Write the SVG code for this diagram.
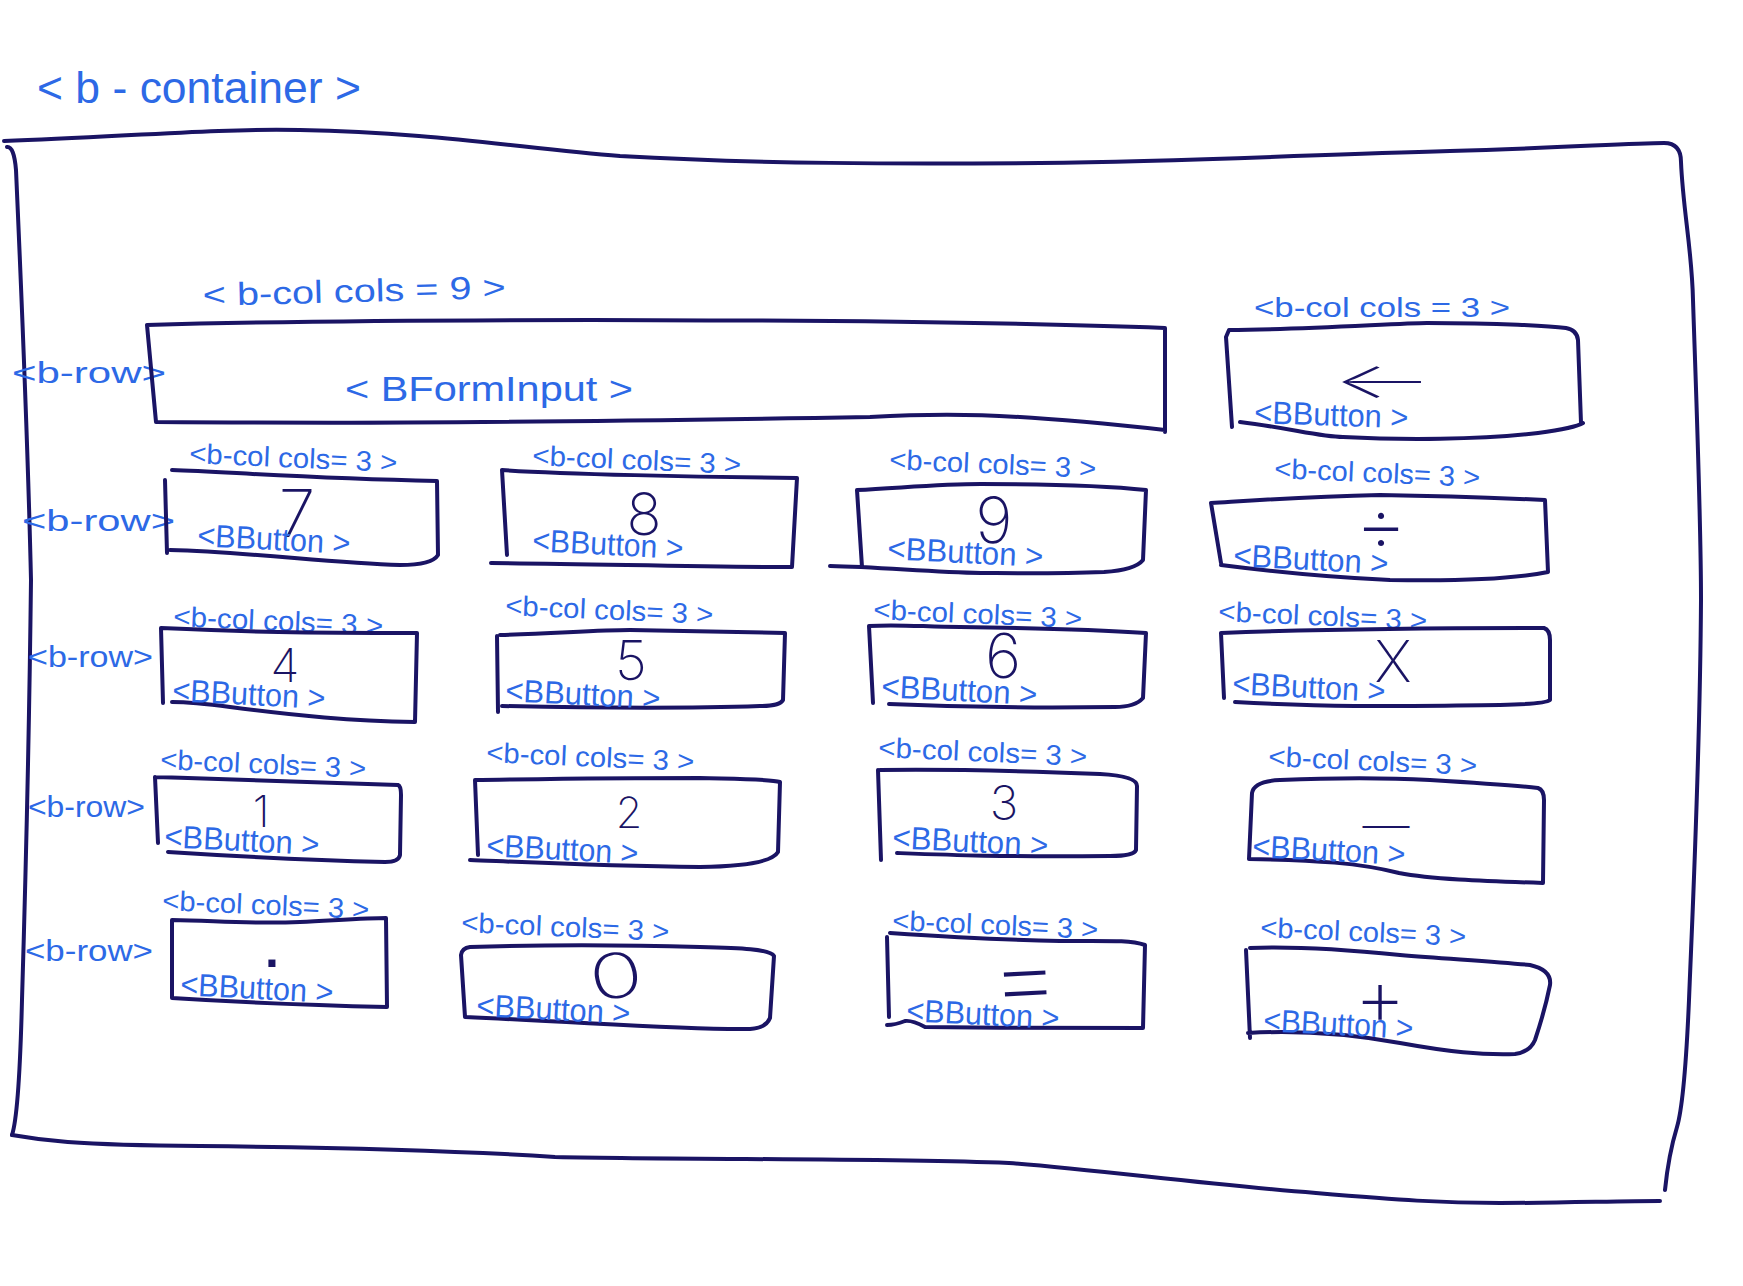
<svg xmlns="http://www.w3.org/2000/svg" width="1743" height="1286" viewBox="0 0 1743 1286">
<style>
.ln{fill:none;stroke:#1a1464;stroke-width:4;stroke-linecap:round;stroke-linejoin:round}
.lbl{font-family:'Liberation Sans',Arial,sans-serif;fill:#2d69e6}
.col{font-size:28px}
.btn{font-size:32px}
.row{font-size:30px}
.gl{font-family:Inter,'Liberation Sans',sans-serif;font-weight:200;fill:#1a1464;text-anchor:middle}
</style>
<rect width="1743" height="1286" fill="#ffffff"/>
<g id="container">
<path class="ln" d="M4 141 C120 137 220 128 300 130 C430 132 520 148 620 156 C760 164 900 164 1040 163 C1200 161 1300 155 1450 151 C1560 148 1630 143 1664 143 Q1681 143 1681 162 C1683 210 1692 250 1693 300 C1697 420 1701 520 1701 600 C1700 760 1693 900 1689 1000 C1686 1070 1682 1110 1677 1127 C1670 1150 1667 1170 1665 1190"/>
<path class="ln" d="M7 147 Q14 146 16 170 C20 260 28 450 31 580 C29 750 25 900 22 1000 C20 1080 17 1120 12 1135"/>
<path class="ln" d="M12 1135 C40 1140 70 1145 200 1146 C300 1147 450 1150 555 1157 C700 1160 870 1158 1009 1163 C1100 1170 1200 1184 1316 1193 C1400 1200 1440 1203 1500 1203 C1560 1203 1620 1201 1660 1201"/>
<text class="lbl" x="37" y="103" font-size="44" textLength="324" lengthAdjust="spacingAndGlyphs">&lt; b - container &gt;</text>
</g>
<g id="rows">
<text class="lbl row" x="12" y="383" textLength="154" lengthAdjust="spacingAndGlyphs">&lt;b-row&gt;</text>
<text class="lbl row" x="22" y="531" textLength="153" lengthAdjust="spacingAndGlyphs">&lt;b-row&gt;</text>
<text class="lbl row" x="28" y="667" textLength="125" lengthAdjust="spacingAndGlyphs">&lt;b-row&gt;</text>
<text class="lbl row" x="28" y="817" textLength="117" lengthAdjust="spacingAndGlyphs">&lt;b-row&gt;</text>
<text class="lbl row" x="25" y="961" textLength="128" lengthAdjust="spacingAndGlyphs">&lt;b-row&gt;</text>
</g>
<g id="connectors"></g>

<g id="col-input">
<text class="lbl" font-size="32" x="203" y="306" textLength="303" lengthAdjust="spacingAndGlyphs" transform="rotate(-1.5 203 306)">&lt; b-col cols = 9 &gt;</text>
<path class="ln" d="M147 325 C400 318 900 318 1165 328 L1165 432 M156 422 C300 423 444 424 870 417 C940 413 1000 412 1165 430 M147 325 L156 422"/>
<text class="lbl" font-size="35" x="345" y="401" textLength="288" lengthAdjust="spacingAndGlyphs">&lt; BFormInput &gt;</text>
</g>
<g id="col-back">
<text class="lbl col" x="1254" y="317" textLength="256" lengthAdjust="spacingAndGlyphs">&lt;b-col cols = 3 &gt;</text>
<path class="ln" d="M1226 337 L1229 330 C1300 330 1400 323 1427 323 C1500 323 1550 326 1566 328 Q1577 330 1578 340 L1581 423 M1240 422 C1290 428 1320 437 1343 437 C1400 440 1480 440 1538 433 Q1575 428 1583 423 M1226 337 L1232 427"/>
<text class="gl" x="1383" y="398" font-size="50" textLength="103" lengthAdjust="spacingAndGlyphs">←</text>
<text class="lbl btn" x="1254" y="423" textLength="154" lengthAdjust="spacingAndGlyphs" transform="rotate(2 1254 423)">&lt;BButton &gt;</text>
</g>

<g id="col-7">
<text class="lbl col" x="189" y="463" textLength="208" lengthAdjust="spacingAndGlyphs" transform="rotate(2.5 189 463)">&lt;b-col cols= 3 &gt;</text>
<path class="ln" d="M172 470 C230 472 300 478 437 481 L438 555 Q432 565 400 565 C330 563 250 552 170 550 M165 480 L167 553"/>
<text class="gl" x="297" y="537" font-size="66">7</text>
<text class="lbl btn" x="197" y="546" textLength="153" lengthAdjust="spacingAndGlyphs" transform="rotate(3 197 546)">&lt;BButton &gt;</text>
</g>
<g id="col-8">
<text class="lbl col" x="532" y="465" textLength="209" lengthAdjust="spacingAndGlyphs" transform="rotate(2.5 532 465)">&lt;b-col cols= 3 &gt;</text>
<path class="ln" d="M502 470 C560 474 700 477 797 478 L792 567 M491 563 C600 564 700 567 792 567 M502 470 L507 555"/>
<text class="gl" x="644" y="535" font-size="58">8</text>
<text class="lbl btn" x="532" y="551" textLength="151" lengthAdjust="spacingAndGlyphs" transform="rotate(3 532 551)">&lt;BButton &gt;</text>
</g>
<g id="col-9">
<text class="lbl col" x="889" y="469" textLength="207" lengthAdjust="spacingAndGlyphs" transform="rotate(2.5 889 469)">&lt;b-col cols= 3 &gt;</text>
<path class="ln" d="M857 490 C900 488 940 484 981 484 C1050 484 1110 486 1146 490 L1143 560 Q1135 570 1104 572 C1050 574 1000 573 981 573 C930 572 880 567 830 566 M857 490 L862 567"/>
<text class="gl" x="994" y="543" font-size="64">9</text>
<text class="lbl btn" x="887" y="559" textLength="156" lengthAdjust="spacingAndGlyphs" transform="rotate(3 887 559)">&lt;BButton &gt;</text>
</g>
<g id="col-div">
<text class="lbl col" x="1274" y="478" textLength="206" lengthAdjust="spacingAndGlyphs" transform="rotate(2.5 1274 478)">&lt;b-col cols= 3 &gt;</text>
<path class="ln" d="M1211 503 C1260 500 1300 497 1380 495 C1450 496 1500 498 1545 500 L1548 572 Q1500 582 1390 580 C1320 577 1260 570 1221 565 M1211 503 L1221 563"/>
<text class="gl" x="1381" y="552" font-size="80">÷</text>
<text class="lbl btn" x="1233" y="566" textLength="155" lengthAdjust="spacingAndGlyphs" transform="rotate(3 1233 566)">&lt;BButton &gt;</text>
</g>

<g id="col-4">
<text class="lbl col" x="173" y="626" textLength="210" lengthAdjust="spacingAndGlyphs" transform="rotate(2.5 173 626)">&lt;b-col cols= 3 &gt;</text>
<path class="ln" d="M161 628 C250 632 300 633 417 633 L415 722 C350 721 300 716 230 707 C200 703 180 702 172 702 M161 628 L163 703"/>
<text class="gl" x="285" y="682" font-size="47">4</text>
<text class="lbl btn" x="172" y="701" textLength="153" lengthAdjust="spacingAndGlyphs" transform="rotate(3 172 701)">&lt;BButton &gt;</text>
</g>
<g id="col-5">
<text class="lbl col" x="505" y="615" textLength="208" lengthAdjust="spacingAndGlyphs" transform="rotate(2.5 505 615)">&lt;b-col cols= 3 &gt;</text>
<path class="ln" d="M500 635 C560 633 600 630 630 630 C700 631 750 632 785 633 L783 700 Q780 706 760 706 C700 708 600 708 502 706 M497 636 L498 712"/>
<text class="gl" x="631" y="680" font-size="55">5</text>
<text class="lbl btn" x="505" y="701" textLength="155" lengthAdjust="spacingAndGlyphs" transform="rotate(3 505 701)">&lt;BButton &gt;</text>
</g>
<g id="col-6">
<text class="lbl col" x="873" y="619" textLength="209" lengthAdjust="spacingAndGlyphs" transform="rotate(2.5 873 619)">&lt;b-col cols= 3 &gt;</text>
<path class="ln" d="M869 626 C900 624 926 627 960 627 C1037 628 1100 630 1146 633 L1143 698 Q1135 707 1115 707 C1050 708 981 708 889 704 M869 626 L873 703"/>
<text class="gl" x="1003" y="678" font-size="62">6</text>
<text class="lbl btn" x="881" y="697" textLength="156" lengthAdjust="spacingAndGlyphs" transform="rotate(3 881 697)">&lt;BButton &gt;</text>
</g>
<g id="col-mul">
<text class="lbl col" x="1218" y="621" textLength="209" lengthAdjust="spacingAndGlyphs" transform="rotate(2.5 1218 621)">&lt;b-col cols= 3 &gt;</text>
<path class="ln" d="M1221 633 C1300 630 1400 628 1544 628 Q1550 630 1550 640 L1550 700 Q1545 704 1500 705 C1400 706 1350 708 1235 702 M1221 633 L1224 698"/>
<text class="gl" x="1393" y="682" font-size="58">X</text>
<text class="lbl btn" x="1232" y="694" textLength="153" lengthAdjust="spacingAndGlyphs" transform="rotate(3 1232 694)">&lt;BButton &gt;</text>
</g>

<g id="col-1">
<text class="lbl col" x="160" y="769" textLength="206" lengthAdjust="spacingAndGlyphs" transform="rotate(2.5 160 769)">&lt;b-col cols= 3 &gt;</text>
<path class="ln" d="M155 777 C250 780 350 784 398 785 Q401 786 401 795 L400 855 Q399 862 385 862 C300 860 230 856 168 852 M155 777 L158 843"/>
<text class="gl" x="261" y="827" font-size="44">1</text>
<text class="lbl btn" x="164" y="847" textLength="155" lengthAdjust="spacingAndGlyphs" transform="rotate(3 164 847)">&lt;BButton &gt;</text>
</g>
<g id="col-2">
<text class="lbl col" x="486" y="762" textLength="208" lengthAdjust="spacingAndGlyphs" transform="rotate(2.5 486 762)">&lt;b-col cols= 3 &gt;</text>
<path class="ln" d="M475 780 C550 779 600 778 700 778 C740 779 770 779 780 782 L778 852 Q770 866 700 867 C600 866 520 862 470 860 M475 780 L478 855"/>
<text class="gl" x="629" y="828" font-size="43">2</text>
<text class="lbl btn" x="486" y="856" textLength="152" lengthAdjust="spacingAndGlyphs" transform="rotate(3 486 856)">&lt;BButton &gt;</text>
</g>
<g id="col-3">
<text class="lbl col" x="878" y="757" textLength="209" lengthAdjust="spacingAndGlyphs" transform="rotate(2.5 878 757)">&lt;b-col cols= 3 &gt;</text>
<path class="ln" d="M880 770 C950 769 1000 770 1100 774 Q1137 776 1137 786 L1136 850 Q1134 856 1110 856 C1000 857 950 855 897 853 M878 770 L881 860"/>
<text class="gl" x="1004" y="820" font-size="48">3</text>
<text class="lbl btn" x="892" y="848" textLength="156" lengthAdjust="spacingAndGlyphs" transform="rotate(3 892 848)">&lt;BButton &gt;</text>
</g>
<g id="col-sub">
<text class="lbl col" x="1268" y="766" textLength="209" lengthAdjust="spacingAndGlyphs" transform="rotate(2.5 1268 766)">&lt;b-col cols= 3 &gt;</text>
<path class="ln" d="M1252 793 Q1254 781 1280 780 C1330 778 1371 777 1430 780 C1480 783 1520 786 1538 788 Q1544 790 1544 800 L1543 883 C1480 881 1430 879 1399 873 C1360 863 1316 860 1249 859 M1252 793 L1249 859"/>
<text class="gl" x="1386" y="842" font-size="47">—</text>
<text class="lbl btn" x="1252" y="857" textLength="153" lengthAdjust="spacingAndGlyphs" transform="rotate(3 1252 857)">&lt;BButton &gt;</text>
</g>

<g id="col-dot">
<text class="lbl col" x="162" y="910" textLength="207" lengthAdjust="spacingAndGlyphs" transform="rotate(2.5 162 910)">&lt;b-col cols= 3 &gt;</text>
<path class="ln" d="M172 920 C220 921 250 924 300 922 C340 920 370 918 386 918 L387 1007 C300 1005 250 1003 172 998 M172 920 L172 998"/>
<text x="272" y="967" font-family="'Liberation Sans',Arial,sans-serif" font-weight="700" font-size="50" fill="#1a1464" text-anchor="middle">.</text>
<text class="lbl btn" x="180" y="995" textLength="153" lengthAdjust="spacingAndGlyphs" transform="rotate(3 180 995)">&lt;BButton &gt;</text>
</g>
<g id="col-0">
<text class="lbl col" x="461" y="932" textLength="208" lengthAdjust="spacingAndGlyphs" transform="rotate(2.5 461 932)">&lt;b-col cols= 3 &gt;</text>
<path class="ln" d="M470 947 C530 945 600 944 700 947 C740 948 770 949 774 956 L770 1018 Q766 1028 750 1029 C680 1030 600 1023 465 1017 L461 955 Q462 948 470 947"/>
<text class="gl" x="616" y="998" font-size="62" textLength="54" lengthAdjust="spacingAndGlyphs" transform="rotate(-10 616 976)">0</text>
<text class="lbl btn" x="476" y="1016" textLength="154" lengthAdjust="spacingAndGlyphs" transform="rotate(3 476 1016)">&lt;BButton &gt;</text>
</g>
<g id="col-eq">
<text class="lbl col" x="892" y="930" textLength="206" lengthAdjust="spacingAndGlyphs" transform="rotate(2.5 892 930)">&lt;b-col cols= 3 &gt;</text>
<path class="ln" d="M890 933 C950 937 1000 940 1060 941 C1110 941 1130 940 1145 945 L1143 1028 C1050 1028 1000 1028 925 1027 Q912 1020 905 1021 Q895 1025 887 1025 M887 937 L889 1017"/>
<text class="gl" x="1025" y="1012" font-size="100" textLength="72" lengthAdjust="spacingAndGlyphs" transform="rotate(-3 1025 978)">=</text>
<text class="lbl btn" x="906" y="1021" textLength="153" lengthAdjust="spacingAndGlyphs" transform="rotate(3 906 1021)">&lt;BButton &gt;</text>
</g>
<g id="col-add">
<text class="lbl col" x="1260" y="937" textLength="206" lengthAdjust="spacingAndGlyphs" transform="rotate(2.5 1260 937)">&lt;b-col cols= 3 &gt;</text>
<path class="ln" d="M1250 948 C1300 946 1350 950 1400 955 C1450 959 1500 962 1530 965 Q1552 970 1550 985 C1545 1010 1540 1025 1535 1040 Q1530 1052 1515 1054 C1480 1055 1450 1052 1400 1043 C1350 1034 1300 1030 1248 1033 M1246 950 L1250 1038"/>
<text class="gl" x="1380" y="1025" font-size="80">+</text>
<text class="lbl btn" x="1263" y="1031" textLength="150" lengthAdjust="spacingAndGlyphs" transform="rotate(3 1263 1031)">&lt;BButton &gt;</text>
</g>
</svg>
